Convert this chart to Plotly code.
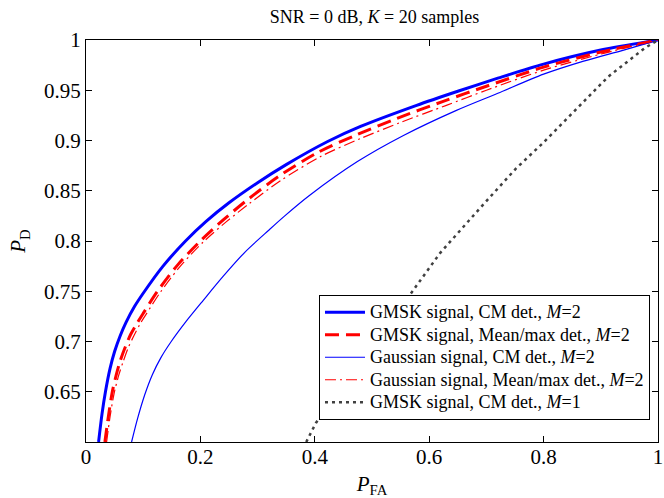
import plotly.graph_objects as go

# ---- data (P_FA, P_D) ----
gmsk_cm2_x = [0.022, 0.028, 0.034, 0.042, 0.050, 0.060, 0.070, 0.085, 0.100, 0.134, 0.174, 0.210, 0.250, 0.300, 0.350, 0.4225, 0.480, 0.578, 0.650, 0.720, 0.800, 0.900, 1.0]
gmsk_cm2_y = [0.600, 0.628, 0.650, 0.673, 0.690, 0.706, 0.719, 0.735, 0.748, 0.7745, 0.800, 0.8195, 0.838, 0.858, 0.876, 0.899, 0.914, 0.935, 0.949, 0.962, 0.976, 0.990, 1.0]

gmsk_mm2_x = [0.033, 0.039, 0.046, 0.053, 0.060, 0.069, 0.078, 0.089, 0.100, 0.125, 0.160, 0.200, 0.240, 0.280, 0.336, 0.405, 0.4745, 0.5437, 0.6245, 0.700, 0.800, 0.900, 1.0]
gmsk_mm2_y = [0.600, 0.625, 0.650, 0.667, 0.681, 0.695, 0.707, 0.718, 0.728, 0.750, 0.776, 0.800, 0.821, 0.840, 0.864, 0.888, 0.906, 0.922, 0.939, 0.954, 0.973, 0.988, 1.0]

gauss_cm2_x = [0.0797, 0.090, 0.1027, 0.116, 0.131, 0.149, 0.175, 0.205, 0.240, 0.278, 0.320, 0.3475, 0.390, 0.4745, 0.555, 0.6476, 0.720, 0.800, 0.870, 0.940, 1.0]
gauss_cm2_y = [0.600, 0.623, 0.647, 0.667, 0.684, 0.700, 0.720, 0.741, 0.765, 0.789, 0.811, 0.825, 0.845, 0.879, 0.905, 0.930, 0.947, 0.966, 0.979, 0.990, 1.0]

gauss_mm2_x = [0.036, 0.042, 0.049, 0.057, 0.065, 0.074, 0.083, 0.094, 0.105, 0.130, 0.165, 0.205, 0.245, 0.285, 0.340, 0.410, 0.480, 0.550, 0.630, 0.700, 0.800, 0.900, 1.0]
gauss_mm2_y = [0.600, 0.625, 0.648, 0.666, 0.680, 0.694, 0.705, 0.717, 0.727, 0.749, 0.775, 0.799, 0.819, 0.837, 0.860, 0.884, 0.902, 0.918, 0.935, 0.950, 0.970, 0.986, 1.0]

gmsk_cm1_x = [0.385, 0.402, 0.567, 0.619, 0.694, 0.7515, 0.798, 0.850, 0.913, 0.977, 1.0]
gmsk_cm1_y = [0.600, 0.619, 0.747, 0.788, 0.836, 0.872, 0.897, 0.927, 0.9635, 0.992, 1.0]

x_ticks = [0, 0.2, 0.4, 0.6, 0.8, 1]
x_tick_text = ["0", "0.2", "0.4", "0.6", "0.8", "1"]
y_ticks = [0.65, 0.7, 0.75, 0.8, 0.85, 0.9, 0.95, 1]
y_tick_text = ["0.65", "0.7", "0.75", "0.8", "0.85", "0.9", "0.95", "1"]

series_names = [
    "GMSK signal, CM det., <i>M</i>=2",
    "GMSK signal, Mean/max det., <i>M</i>=2",
    "Gaussian signal, CM det., <i>M</i>=2",
    "Gaussian signal, Mean/max det., <i>M</i>=2",
    "GMSK signal, CM det., <i>M</i>=1",
]

FONT = "Liberation Serif, Times New Roman, serif"


def legend_label(s):
    return '<span style="font-size:18px">' + s + '</span>'


fig = go.Figure()
fig.add_trace(go.Scatter(x=gmsk_cm2_x, y=gmsk_cm2_y, mode="lines",
                         line=dict(color="#0000ff", width=3, shape="spline", smoothing=0.8),
                         name=legend_label(series_names[0])))
fig.add_trace(go.Scatter(x=gmsk_mm2_x, y=gmsk_mm2_y, mode="lines",
                         line=dict(color="#ff0000", width=3, dash="14px,7px", shape="spline", smoothing=0.8),
                         name=legend_label(series_names[1])))
fig.add_trace(go.Scatter(x=gauss_cm2_x, y=gauss_cm2_y, mode="lines",
                         line=dict(color="#0000ff", width=1.2, shape="spline", smoothing=0.8),
                         name=legend_label(series_names[2])))
fig.add_trace(go.Scatter(x=gauss_mm2_x, y=gauss_mm2_y, mode="lines",
                         line=dict(color="#ff0000", width=1.2, dash="11px,4px,2px,4px", shape="spline", smoothing=0.8),
                         name=legend_label(series_names[3])))
fig.add_trace(go.Scatter(x=gmsk_cm1_x, y=gmsk_cm1_y, mode="lines",
                         line=dict(color="#404040", width=2.5, dash="3px,4px"),
                         name=legend_label(series_names[4])))

axis_common = dict(showgrid=False, zeroline=False, showline=True, linecolor="black",
                   linewidth=1, mirror="ticks", ticks="inside", ticklen=6,
                   tickcolor="black", tickfont=dict(family=FONT, size=21, color="black"),
                   ticklabeloverflow="allow")

fig.update_layout(
    width=664, height=498,
    margin=dict(l=86, r=1, t=40, b=56),
    paper_bgcolor="white", plot_bgcolor="white",
    font=dict(family=FONT, color="black"),
    title=dict(text="SNR = 0 dB, <i>K</i> = 20 samples", x=0.564, xanchor="center",
               y=0.966, yanchor="middle", yref="container",
               font=dict(family=FONT, size=18, color="black")),
    xaxis=dict(range=[0, 1], tickvals=x_ticks, ticktext=x_tick_text, ticklabelstandoff=-4,
               title=dict(text="<i>P</i><sub>FA</sub>", font=dict(family=FONT, size=21), standoff=8),
               **axis_common),
    yaxis=dict(range=[0.6, 1], tickvals=y_ticks, ticktext=y_tick_text,
               title=dict(text="<i>P</i><sub>D</sub>", font=dict(family=FONT, size=21), standoff=12),
               **axis_common),
    legend=dict(x=0.986, y=0.0547, xanchor="right", yanchor="bottom",
                bgcolor="white", bordercolor="black", borderwidth=1,
                font=dict(family=FONT, size=15, color="black"),
                tracegroupgap=0, itemwidth=40),
    showlegend=True,
)

# remove the default 8px page margin so the 664x498 figure fills the window exactly
fig.write_html("out.html",
               config={"displayModeBar": False},
               post_script="document.body.style.margin='0px';document.body.style.overflow='hidden';")
